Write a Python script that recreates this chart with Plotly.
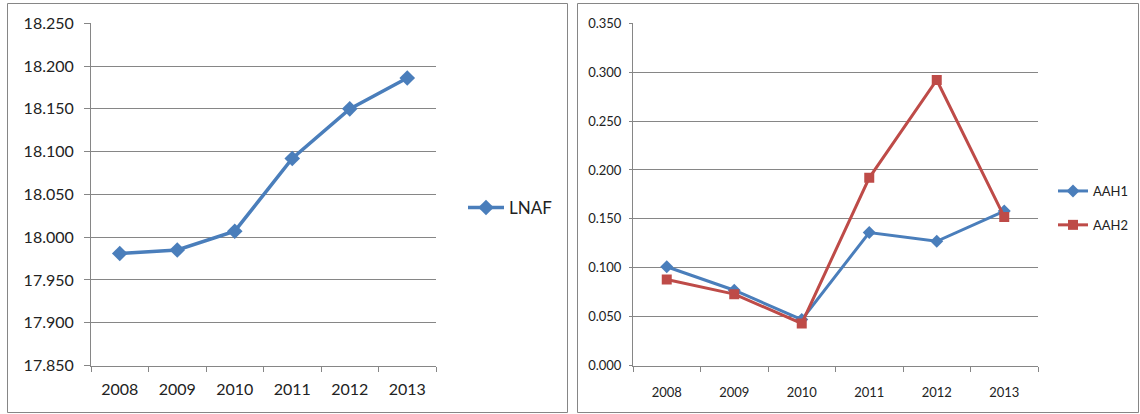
import plotly.graph_objects as go

# Years on the category axis
years = ["2008", "2009", "2010", "2011", "2012", "2013"]

# Left panel series
lnaf = [17.981, 17.985, 18.007, 18.092, 18.150, 18.186]

# Right panel series
aah1 = [0.101, 0.077, 0.047, 0.136, 0.127, 0.158]
aah2 = [0.088, 0.073, 0.043, 0.192, 0.292, 0.152]

# Y tick labels
left_ticks = [17.85, 17.90, 17.95, 18.00, 18.05, 18.10, 18.15, 18.20, 18.25]
right_ticks = [0.0, 0.05, 0.10, 0.15, 0.20, 0.25, 0.30, 0.35]

BLUE = "#4A7EBB"
RED = "#BE4B48"
GRID = "#868686"
FONT = "Lato, 'Open Sans', sans-serif"
W, H = 1140, 414

fig = go.Figure()

fig.add_trace(go.Scatter(
    x=years, y=lnaf, name="LNAF", mode="lines+markers",
    line=dict(color=BLUE, width=3.5),
    marker=dict(symbol="diamond", size=12, color=BLUE),
    xaxis="x", yaxis="y", legend="legend", showlegend=True,
))
fig.add_trace(go.Scatter(
    x=years, y=aah1, name="AAH1", mode="lines+markers",
    line=dict(color=BLUE, width=3),
    marker=dict(symbol="diamond", size=10, color=BLUE),
    xaxis="x2", yaxis="y2", legend="legend2", legendgroup="a1",
    showlegend=True,
))
fig.add_trace(go.Scatter(
    x=years, y=aah2, name="AAH2", mode="lines+markers",
    line=dict(color=RED, width=3),
    marker=dict(symbol="square", size=10, color=RED),
    xaxis="x2", yaxis="y2", legend="legend2", legendgroup="a2",
    showlegend=True,
))


def px(x):
    return x / W


def py(y):
    return 1 - y / H


y_dom = [py(365.5), py(23.3)]

xcommon = dict(
    type="category", categoryorder="array", categoryarray=years,
    range=[-0.5, 5.5], tickson="boundaries", ticks="outside",
    ticklen=5, tickcolor=GRID, showline=True, linecolor=GRID,
    showgrid=False, zeroline=False, fixedrange=True, automargin=False,
)
ycommon = dict(
    ticks="outside", tickcolor=GRID, showline=True, linecolor=GRID,
    showgrid=True, gridcolor=GRID, gridwidth=1, zeroline=False,
    tickformat=".3f", fixedrange=True, automargin=False,
)

fig.update_layout(
    width=W, height=H, autosize=False, showlegend=True,
    margin=dict(l=0, r=0, t=0, b=0, pad=0, autoexpand=False),
    paper_bgcolor="white", plot_bgcolor="white",
    font=dict(family=FONT, color="#222222"),
    xaxis=dict(domain=[px(91), px(436)], anchor="y",
               tickfont=dict(size=16), ticklabelstandoff=9, **xcommon),
    yaxis=dict(domain=y_dom, anchor="x", range=[17.85, 18.25],
               tickvals=left_ticks, ticklen=6,
               tickfont=dict(size=16), ticklabelstandoff=7, **ycommon),
    xaxis2=dict(domain=[px(633), px(1038)], anchor="y2",
                tickfont=dict(size=13), ticklabelstandoff=15, **xcommon),
    yaxis2=dict(domain=y_dom, anchor="x2", range=[0, 0.35],
                tickvals=right_ticks, ticklen=3,
                tickfont=dict(size=13), ticklabelstandoff=5, **ycommon),
    legend=dict(x=px(463), y=py(208), xanchor="left", yanchor="middle",
                font=dict(size=17), bgcolor="rgba(0,0,0,0)",
                itemwidth=36, visible=True),
    legend2=dict(x=px(1053), y=py(208), xanchor="left", yanchor="middle",
                 font=dict(size=13), bgcolor="rgba(0,0,0,0)",
                 tracegroupgap=14, itemwidth=30, visible=True),
    shapes=[
        dict(type="rect", xref="paper", yref="paper",
             x0=px(7.5), x1=px(567.5), y0=py(412.5), y1=py(3.5),
             line=dict(color=GRID, width=1)),
        dict(type="rect", xref="paper", yref="paper",
             x0=px(577.5), x1=px(1138.5), y0=py(412.5), y1=py(3.5),
             line=dict(color=GRID, width=1)),
    ],
)

# Page without the default body margin so the figure fills the window
fig.write_html(
    "out.html",
    post_script="document.body.style.margin='0';"
                "document.body.style.overflow='hidden';",
)
